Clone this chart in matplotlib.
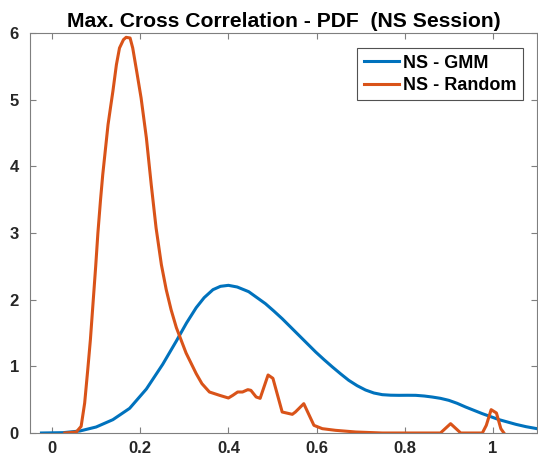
import numpy as np
import matplotlib
matplotlib.use('Agg')
import matplotlib.pyplot as plt

# values
gmm_x = [-0.024, 0.025, 0.063, 0.1, 0.138, 0.176, 0.214, 0.251, 0.282, 0.305, 0.327,
         0.345, 0.365, 0.382, 0.4, 0.42, 0.446, 0.465, 0.484, 0.503, 0.522, 0.541,
         0.56, 0.579, 0.598, 0.617, 0.636, 0.655, 0.673, 0.692, 0.711, 0.73, 0.749,
         0.768, 0.787, 0.806, 0.825, 0.844, 0.862, 0.881, 0.9, 0.919, 0.938, 0.957,
         0.976, 0.995, 1.014, 1.033, 1.052, 1.075, 1.1]
gmm_y = [0.0, 0.005, 0.03, 0.09, 0.2, 0.37, 0.66, 1.03, 1.38, 1.65, 1.88,
         2.03, 2.15, 2.2, 2.215, 2.19, 2.12, 2.03, 1.94, 1.83, 1.715, 1.59,
         1.465, 1.34, 1.215, 1.1, 0.99, 0.885, 0.79, 0.71, 0.645, 0.6, 0.575,
         0.567, 0.565, 0.566, 0.565, 0.555, 0.54, 0.52, 0.49, 0.445, 0.39, 0.34,
         0.29, 0.245, 0.2, 0.165, 0.13, 0.095, 0.065]

rand_x = [0.029, 0.055, 0.066, 0.074, 0.081, 0.087, 0.093, 0.099, 0.104, 0.11, 0.115,
          0.121, 0.127, 0.133, 0.138, 0.146, 0.153, 0.162, 0.168, 0.177, 0.183, 0.192,
          0.202, 0.214, 0.225, 0.236, 0.248, 0.259, 0.27, 0.282, 0.304, 0.327, 0.34,
          0.357, 0.38, 0.4, 0.41, 0.421, 0.432, 0.444, 0.451, 0.463, 0.472, 0.49,
          0.501, 0.522, 0.545, 0.552, 0.571, 0.594, 0.613, 0.643, 0.689, 0.749, 0.881,
          0.904, 0.927, 0.976, 0.985, 0.996, 1.008, 1.018, 1.025]
rand_y = [0.0, 0.015, 0.1, 0.45, 0.95, 1.4, 1.95, 2.5, 3.0, 3.5, 3.875,
          4.25, 4.625, 4.9, 5.125, 5.525, 5.775, 5.9, 5.935, 5.925, 5.775, 5.425,
          5.025, 4.425, 3.725, 3.075, 2.525, 2.15, 1.85, 1.58, 1.2, 0.89, 0.74,
          0.615, 0.565, 0.525, 0.565, 0.615, 0.615, 0.65, 0.64, 0.54, 0.52, 0.87,
          0.82, 0.315, 0.28, 0.315, 0.44, 0.115, 0.065, 0.04, 0.015, 0.0, 0.0,
          0.14, 0.0, 0.0, 0.115, 0.35, 0.3, 0.065, 0.0]

plt.rcParams['font.family'] = ['Liberation Sans', 'DejaVu Sans']
plt.rcParams['font.weight'] = 'bold'

fig = plt.figure(figsize=(5.38, 4.61), dpi=100)
ax = fig.add_axes([30 / 538, 1 - 433 / 461, 507 / 538, 400 / 461])

ax.plot(gmm_x, gmm_y, color='#0072BD', lw=2.2, label='NS - GMM')
ax.plot(rand_x, rand_y, color='#D95319', lw=2.2, label='NS - Random')

ax.set_xlim(-0.05, 1.1)
ax.set_ylim(0, 6)
ax.set_xticks([0, 0.2, 0.4, 0.6, 0.8, 1])
ax.set_xticklabels(['0', '0.2', '0.4', '0.6', '0.8', '1'])
ax.set_yticks(range(7))

for s in ax.spines.values():
    s.set_color('#7f7f7f')
    s.set_linewidth(0.8)
ax.tick_params(direction='in', top=True, right=True, length=4, width=0.8,
               color='#7f7f7f', labelsize=12, labelcolor='#262626', pad=6)
ax.tick_params(axis='y', pad=8)
for lab in ax.get_xticklabels() + ax.get_yticklabels():
    lab.set_fontweight('bold')

ax.set_title('Max. Cross Correlation - PDF  (NS Session)', fontsize=15.2,
             fontweight='bold', pad=4)

leg = ax.legend(loc='upper right', bbox_to_anchor=(0.972, 0.962), fontsize=13,
                fancybox=False, edgecolor='#262626', handlelength=1.95,
                borderpad=0.35, labelspacing=0.3, handletextpad=0.22,
                borderaxespad=0)
leg.get_frame().set_linewidth(0.8)
for t in leg.get_texts():
    t.set_fontweight('bold')

fig.savefig('out.png', dpi=100)
